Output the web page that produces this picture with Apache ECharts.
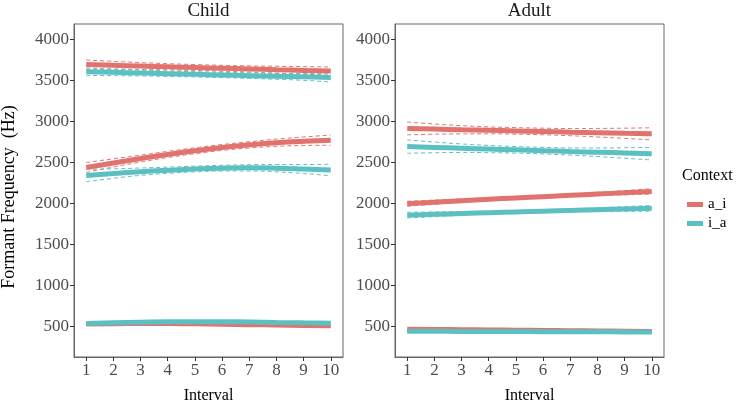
<!DOCTYPE html>
<html>
<head>
<meta charset="utf-8">
<script src="https://cdn.jsdelivr.net/npm/echarts@6/dist/echarts.min.js"></script>
<style>
html,body{margin:0;padding:0;background:#fff;}
#chart{width:738px;height:409px;}
</style>
</head>
<body>
<div id="chart"></div>
<script>
// ---------- DATA ----------
var intervals = [1,2,3,4,5,6,7,8,9,10];
var xTicks = [1,2,3,4,5,6,7,8,9,10];
var yTicks = [500,1000,1500,2000,2500,3000,3500,4000];
var panels = ['Child','Adult'];
var contexts = ['a_i','i_a'];

// Child panel: fitted formant values
var child_a_i_F1 = [530,534,536,536,532,527,522,517,513,508];
var child_i_a_F1 = [537,545,552,557,558,557,554,549,544,539];
var child_a_i_F2 = [2437,2492,2545,2595,2640,2680,2712,2738,2756,2769];
var child_i_a_F2 = [2338,2362,2385,2403,2418,2428,2432,2428,2418,2405];
var child_a_i_F3 = [3690,3681,3672,3663,3654,3645,3636,3627,3619,3611];
var child_i_a_F3 = [3603,3595,3587,3579,3571,3563,3555,3547,3540,3532];
// Child panel: confidence half-widths
var child_a_i_F1_ci = [15,12,10,9,9,9,9,10,12,15];
var child_i_a_F1_ci = [15,12,10,9,9,9,9,10,12,15];
var child_a_i_F2_ci = [60,50,42,38,36,36,38,44,52,62];
var child_i_a_F2_ci = [75,58,45,38,35,35,38,45,55,70];
var child_a_i_F3_ci = [55,48,42,38,36,36,38,42,46,50];
var child_i_a_F3_ci = [45,40,36,33,32,32,33,36,42,55];

// Adult panel: fitted formant values
var adult_a_i_F1 = [467,464,461,458,455,452,449,446,443,440];
var adult_i_a_F1 = [442,441,440,439,438,437,436,435,434,433];
var adult_a_i_F2 = [1995,2014,2032,2049,2065,2081,2097,2113,2129,2145];
var adult_i_a_F2 = [1856,1866,1876,1886,1895,1904,1913,1922,1931,1939];
var adult_a_i_F3 = [2912,2904,2896,2889,2882,2875,2867,2860,2853,2846];
var adult_i_a_F3 = [2691,2681,2671,2661,2651,2641,2631,2622,2613,2604];
// Adult panel: confidence half-widths
var adult_a_i_F1_ci = [12,10,8,7,7,7,7,8,10,12];
var adult_i_a_F1_ci = [12,10,8,7,7,7,7,8,10,12];
var adult_a_i_F2_ci = [30,25,20,17,16,16,17,20,25,32];
var adult_i_a_F2_ci = [35,28,22,18,16,16,18,22,28,35];
var adult_a_i_F3_ci = [78,62,50,42,40,40,44,52,62,74];
var adult_i_a_F3_ci = [82,65,52,44,40,40,44,52,64,76];

// ---------- BUILD ----------
var colors = {a_i:'#e0736d', i_a:'#5cc0c2'};
var FONT = 'Liberation Serif, Times New Roman, serif';

var groups = [
  {g:0, ctx:'a_i', v:child_a_i_F1, ci:child_a_i_F1_ci},
  {g:0, ctx:'i_a', v:child_i_a_F1, ci:child_i_a_F1_ci},
  {g:0, ctx:'a_i', v:child_a_i_F2, ci:child_a_i_F2_ci},
  {g:0, ctx:'i_a', v:child_i_a_F2, ci:child_i_a_F2_ci},
  {g:0, ctx:'a_i', v:child_a_i_F3, ci:child_a_i_F3_ci},
  {g:0, ctx:'i_a', v:child_i_a_F3, ci:child_i_a_F3_ci},
  {g:1, ctx:'a_i', v:adult_a_i_F1, ci:adult_a_i_F1_ci},
  {g:1, ctx:'i_a', v:adult_i_a_F1, ci:adult_i_a_F1_ci},
  {g:1, ctx:'a_i', v:adult_a_i_F2, ci:adult_a_i_F2_ci},
  {g:1, ctx:'i_a', v:adult_i_a_F2, ci:adult_i_a_F2_ci},
  {g:1, ctx:'a_i', v:adult_a_i_F3, ci:adult_a_i_F3_ci},
  {g:1, ctx:'i_a', v:adult_i_a_F3, ci:adult_i_a_F3_ci}
];

function pts(vals, off, sign){
  return intervals.map(function(x,i){ return [x, vals[i] + (off ? sign*off[i] : 0)]; });
}

var series = [];
groups.forEach(function(s){
  var c = colors[s.ctx];
  [1,-1].forEach(function(sign){
    series.push({
      type:'line', name: s.ctx + ' CI', xAxisIndex:s.g, yAxisIndex:s.g,
      data: pts(s.v, s.ci, sign), smooth:true, symbol:'none', silent:true,
      lineStyle:{color:c, width:1, type:[4,3]}, z:2
    });
  });
});
groups.forEach(function(s){
  series.push({
    type:'line', name: s.ctx, xAxisIndex:s.g, yAxisIndex:s.g,
    data: pts(s.v), smooth:true, symbol:'none',
    itemStyle:{color:colors[s.ctx]},
    lineStyle:{color:colors[s.ctx], width:5}, z:3
  });
});

var gridLefts = [74, 395];
var grids = gridLefts.map(function(l){
  return {left:l, top:24, width:269, height:346, show:true, borderColor:'#666', borderWidth:1, backgroundColor:'#fff'};
});

function plain(v){ return String(v); }

var xAxes = [0,1].map(function(i){
  return {
    type:'value', gridIndex:i, min:0.55, max:10.45,
    name:'Interval', nameLocation:'middle', nameGap:31,
    nameTextStyle:{fontFamily:FONT, fontSize:16, color:'#000'},
    axisLine:{show:true, lineStyle:{color:'#666'}},
    axisTick:{show:true, length:4, customValues:xTicks, lineStyle:{color:'#333'}},
    axisLabel:{customValues:xTicks, formatter:plain, fontFamily:FONT, fontSize:17, color:'#4d4d4d', margin:5},
    splitLine:{show:false}
  };
});
var yAxes = [0,1].map(function(i){
  return {
    type:'value', gridIndex:i, min:128, max:4184,
    axisLine:{show:true, lineStyle:{color:'#666'}},
    axisTick:{show:true, length:4, customValues:yTicks, lineStyle:{color:'#333'}},
    axisLabel:{customValues:yTicks, formatter:plain, fontFamily:FONT, fontSize:17, color:'#4d4d4d', margin:5},
    splitLine:{show:false}
  };
});

var option = {
  backgroundColor:'#fff',
  animation:false,
  textStyle:{fontFamily:FONT},
  grid: grids,
  xAxis: xAxes,
  yAxis: yAxes,
  series: series,
  legend:{
    data: contexts, orient:'vertical', left:682, top:192,
    icon:'rect', itemWidth:16, itemHeight:5, itemGap:4,
    textStyle:{fontFamily:FONT, fontSize:15, color:'#000', lineHeight:15}
  },
  graphic:[
    {type:'text', x:208.5, y:11, style:{text:panels[0], font:'19px Liberation Serif', fill:'#1a1a1a', textAlign:'center', textVerticalAlign:'middle'}},
    {type:'text', x:529.5, y:11, style:{text:panels[1], font:'19px Liberation Serif', fill:'#1a1a1a', textAlign:'center', textVerticalAlign:'middle'}},
    {type:'text', x:9, y:197, rotation:Math.PI/2, style:{text:'Formant Frequency  (Hz)', font:'18px Liberation Serif', fill:'#000', textAlign:'center', textVerticalAlign:'middle'}},
    {type:'text', x:682, y:176, style:{text:'Context', font:'16px Liberation Serif', fill:'#000', textAlign:'left', textVerticalAlign:'middle'}}
  ]
};

var chart = echarts.init(document.getElementById('chart'), null, {renderer:'canvas'});
chart.setOption(option);
</script>
</body>
</html>
